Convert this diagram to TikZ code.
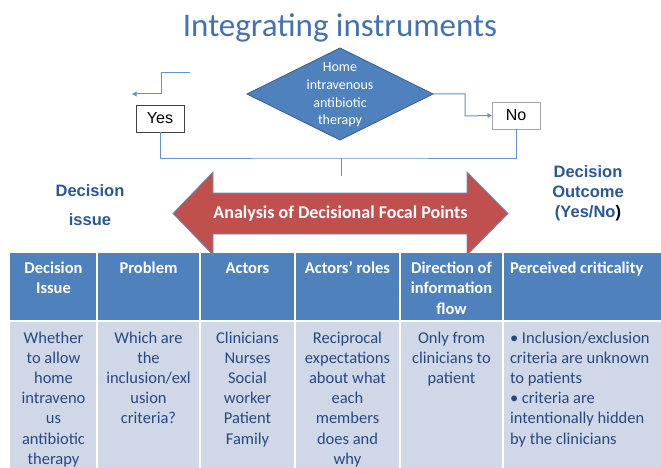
\documentclass[tikz,border=0pt]{standalone}
\usepackage{fontspec}
\setmainfont{Carlito}
\newfontfamily\arialfont{Liberation Sans}
\usetikzlibrary{shapes.geometric,arrows.meta}

\definecolor{titleblue}{RGB}{68,114,176}
\definecolor{boxblue}{RGB}{79,129,189}
\definecolor{boxedge}{RGB}{56,93,138}
\definecolor{linkblue}{RGB}{98,146,208}
\definecolor{labelblue}{RGB}{42,88,150}
\definecolor{arrowred}{RGB}{192,80,77}
\definecolor{arrowedge}{RGB}{110,140,190}
\definecolor{cellblue}{RGB}{208,216,232}
\definecolor{celltext}{RGB}{38,72,130}

\begin{document}
\begin{tikzpicture}[x=1pt, y=-1pt]
	\tikzstyle{every node} = [inner sep=0pt, outer sep=0pt]
	\tikzstyle{decision} = [diamond, fill=boxblue, draw=boxedge, line width=0.8pt, minimum width=186pt, minimum height=92pt]
	\tikzstyle{answer} = [draw, fill=white, line width=0.9pt, minimum width=48pt, minimum height=27pt, font=\arialfont\fontsize{16}{18}\selectfont]
	\tikzstyle{link} = [linkblue, line width=1pt]
	\tikzstyle{tip} = [-{Triangle[length=4.5pt,width=4.5pt]}]
	\tikzstyle{side} = [align=center, text=labelblue, font=\arialfont\bfseries\fontsize{16.5}{20}\selectfont]
	% multi-line nodes sit on the baseline of their last line
	\tikzstyle{head} = [align=center, text=white, anchor=base, font=\bfseries\fontsize{16.5}{20.5}\selectfont]
	\tikzstyle{cell} = [align=center, text=celltext, anchor=base, font=\fontsize{16.5}{20.2}\selectfont]

	\useasboundingbox (0,0) rectangle (661,468);
	\fill [white] (0,0) rectangle (661,468);

	\node [text=titleblue, anchor=base, font=\fontsize{33}{36}\selectfont] (title) at (340,37) {Integrating instruments};

	% decision diamond and its two answers
	\node [decision] (therapy) at (340,94) {};
	\node [align=center, text=white, font=\fontsize{14}{17.6}\selectfont] (therapytext) at (340,95) {Home\\intravenous\\antibiotic\\therapy};
	\node [answer, draw=black!75] (yes) at (160,118.5) {Yes};
	\node [answer, draw=black!35] (no) at (516,115.5) {No};

	\coordinate (yesfrom) at (190,73);
	\coordinate (yesto) at (132,94);
	\coordinate (join) at (341,158);
	\coordinate (joinend) at (341,176);

	\draw [link, tip] (yesfrom) -| (161,94) -- (yesto);
	\draw [link, tip] (therapy.east) -| (465,116) -- (no.west);
	\draw [link] (yes.south) |- (join) -| (no.south);
	\draw [link] (join) -- (joinend);

	\node [side] (issue) at (90,205) {Decision\\[9pt]issue};
	\node [side] (outcome) at (588,193) {Decision\\Outcome\\(Yes/No\textcolor{black}{)}};

	% table
	\fill [boxblue] (10,253) rectangle (670,321);
	\fill [cellblue] (10,321) rectangle (670,470);
	\draw [white, line width=1.5pt] (10,321) -- (670,321);
	\foreach \x in {97,200,295,400,503}
		\draw [white, line width=1.2pt] (\x,253) -- (\x,470);

	% double arrow across the table
	\draw [fill=arrowred, draw=arrowedge, line width=0.8pt] (173,213.5) -- (213,172) -- (213,193) -- (467,193) -- (467,172) -- (508,213.5) -- (467,255) -- (467,234) -- (213,234) -- (213,255) -- cycle;
	\node [text=white, font=\bfseries\fontsize{18}{20}\selectfont] (focal) at (340.5,213.5) {Analysis of Decisional Focal Points};

	\node [head] (h1) at (53.5,293.5) {Decision\\Issue};
	\node [head] (h2) at (148.5,273) {Problem};
	\node [head] (h3) at (247.5,273) {Actors};
	\node [head] (h4) at (347.5,273) {Actors’ roles};
	\node [head] (h5) at (451.5,314) {Direction of\\information\\flow};
	\node [head, align=left, anchor=base west] (h6) at (510,273) {Perceived criticality};

	\node [cell] (c1) at (53.5,464.2) {Whether\\to allow\\home\\intraveno\\us\\antibiotic\\therapy};
	\node [cell] (c2) at (148.5,423.8) {Which are\\the\\inclusion/exl\\usion\\criteria?};
	\node [cell] (c3) at (247.5,444) {Clinicians\\Nurses\\Social\\worker\\Patient\\Family};
	\node [cell] (c4) at (347.5,464.2) {Reciprocal\\expectations\\about what\\each\\members\\does and\\why};
	\node [cell] (c5) at (451.5,383.4) {Only from\\clinicians to\\patient};
	\node [cell, align=left, anchor=base west] (c6) at (510,444) {• Inclusion/exclusion\\criteria are unknown\\to patients\\• criteria are\\intentionally hidden\\by the clinicians};
\end{tikzpicture}
\end{document}
